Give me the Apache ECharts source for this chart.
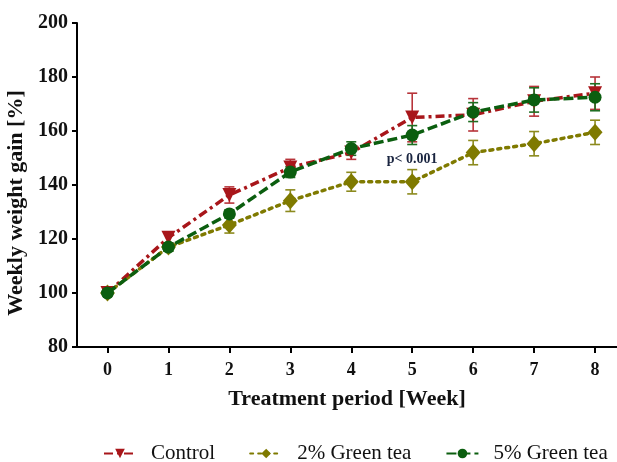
<!DOCTYPE html>
<html>
<head>
<meta charset="utf-8">
<script src="https://cdn.jsdelivr.net/npm/echarts@6/dist/echarts.min.js"></script>
<style>
  html, body { margin: 0; padding: 0; background: #fff; }
  #chart { width: 617px; height: 462px; }
</style>
</head>
<body>
<div id="chart"></div>
<script>
const weeks = [0, 1, 2, 3, 4, 5, 6, 7, 8]
const yTicks = [80, 100, 120, 140, 160, 180, 200]

const controlMean = [100, 120.5, 136.3, 146.5, 152, 165, 166, 171, 174]
const controlErr = [1, 2, 3, 3, 2.5, 9, 6, 5.5, 6]
const tea2Mean = [100, 117, 125.2, 134.2, 141.2, 141.2, 152, 155.3, 159.5]
const tea2Err = [1, 1.5, 3, 4, 3.5, 4.5, 4.5, 4.5, 4.5]
const tea5Mean = [100, 117, 129.3, 144.8, 153.5, 158.5, 167, 171.5, 172.5]
const tea5Err = [1, 1.5, 1.5, 2, 2.5, 3.5, 3.5, 4.5, 5]

const RED = '#a8161a'
const OLIVE = '#7f7a00'
const GREEN = '#0b5e0f'
const SERIF = 'Liberation Serif'

const chart = echarts.init(document.getElementById('chart'))

function pairs (mean) {
  return weeks.map((w, i) => [w, mean[i]])
}

function errData (mean, err) {
  return weeks.map((w, i) => [w, mean[i] - err[i], mean[i] + err[i]])
}

function errSeries (name, mean, err, color) {
  return {
    type: 'custom',
    name: name + ' err',
    data: errData(mean, err),
    z: 1,
    silent: true,
    renderItem: function (params, api) {
      const lo = api.coord([api.value(0), api.value(1)])
      const hi = api.coord([api.value(0), api.value(2)])
      const half = 5
      const style = { stroke: color, lineWidth: 1.6, fill: null }
      return {
        type: 'group',
        children: [
          { type: 'line', shape: { x1: lo[0], y1: lo[1], x2: hi[0], y2: hi[1] }, style: style },
          { type: 'line', shape: { x1: lo[0] - half, y1: lo[1], x2: lo[0] + half, y2: lo[1] }, style: style },
          { type: 'line', shape: { x1: hi[0] - half, y1: hi[1], x2: hi[0] + half, y2: hi[1] }, style: style }
        ]
      }
    }
  }
}

chart.setOption({
  animation: false,
  grid: { left: 77, right: 0, top: 23, bottom: 115, outerBoundsMode: 'none' },
  legend: {
    top: 438,
    left: 98,
    itemGap: 34,
    itemWidth: 32,
    itemHeight: 12,
    textStyle: { fontFamily: SERIF, fontSize: 21, color: '#111', padding: [0, 0, 0, 10] },
    data: ['Control', '2% Green tea', '5% Green tea']
  },
  xAxis: {
    type: 'value',
    min: -0.5,
    max: 8.36,
    name: 'Treatment period [Week]',
    nameLocation: 'middle',
    nameGap: 41,
    nameTextStyle: { fontFamily: SERIF, fontSize: 22, fontWeight: 'bold', color: '#111' },
    splitLine: { show: false },
    axisLine: { lineStyle: { color: '#000', width: 2 } },
    axisTick: { show: true, length: 6, lineStyle: { color: '#000', width: 2 }, customValues: weeks },
    axisLabel: { fontFamily: SERIF, fontSize: 18, fontWeight: 'bold', color: '#111', margin: 14, customValues: weeks }
  },
  yAxis: {
    type: 'value',
    min: 80,
    max: 200,
    interval: 20,
    name: 'Weekly weight gain [%]',
    nameLocation: 'middle',
    nameGap: 46,
    nameTextStyle: { fontFamily: SERIF, fontSize: 22, fontWeight: 'bold', color: '#111', padding: [0, 36, 0, 0] },
    splitLine: { show: false },
    axisLine: { show: true, onZero: false, lineStyle: { color: '#000', width: 2 } },
    axisTick: { show: true, length: 5, lineStyle: { color: '#000', width: 2 } },
    axisLabel: { fontFamily: SERIF, fontSize: 20, fontWeight: 'bold', color: '#111', margin: 9 }
  },
  series: [
    errSeries('2% Green tea', tea2Mean, tea2Err, '#8c8a1e'),
    errSeries('Control', controlMean, controlErr, '#b7343a'),
    errSeries('5% Green tea', tea5Mean, tea5Err, '#1f6e22'),
    {
      type: 'line',
      name: '2% Green tea',
      data: pairs(tea2Mean),
      z: 2,
      symbol: 'diamond',
      symbolSize: [15, 17],
      itemStyle: { color: OLIVE },
      lineStyle: { color: OLIVE, width: 3.5, type: [3, 5], cap: 'round' }
    },
    {
      type: 'line',
      name: 'Control',
      data: pairs(controlMean),
      z: 3,
      symbol: 'triangle',
      symbolRotate: 180,
      symbolSize: 14,
      itemStyle: { color: RED },
      lineStyle: { color: RED, width: 3.5, type: [9, 4, 3, 4] },
      markPoint: {
        symbol: 'circle',
        symbolSize: 0,
        data: [{ coord: [5.0, 149.5], value: 'p< 0.001' }],
        label: {
          show: true,
          position: 'inside',
          formatter: 'p< 0.001',
          fontFamily: SERIF,
          fontSize: 14,
          fontWeight: 'bold',
          color: '#1a2540'
        }
      }
    },
    {
      type: 'line',
      name: '5% Green tea',
      data: pairs(tea5Mean),
      z: 4,
      symbol: 'circle',
      symbolSize: 13,
      itemStyle: { color: GREEN },
      lineStyle: { color: GREEN, width: 3.5, type: [10, 4] }
    }
  ]
})
</script>
</body>
</html>
